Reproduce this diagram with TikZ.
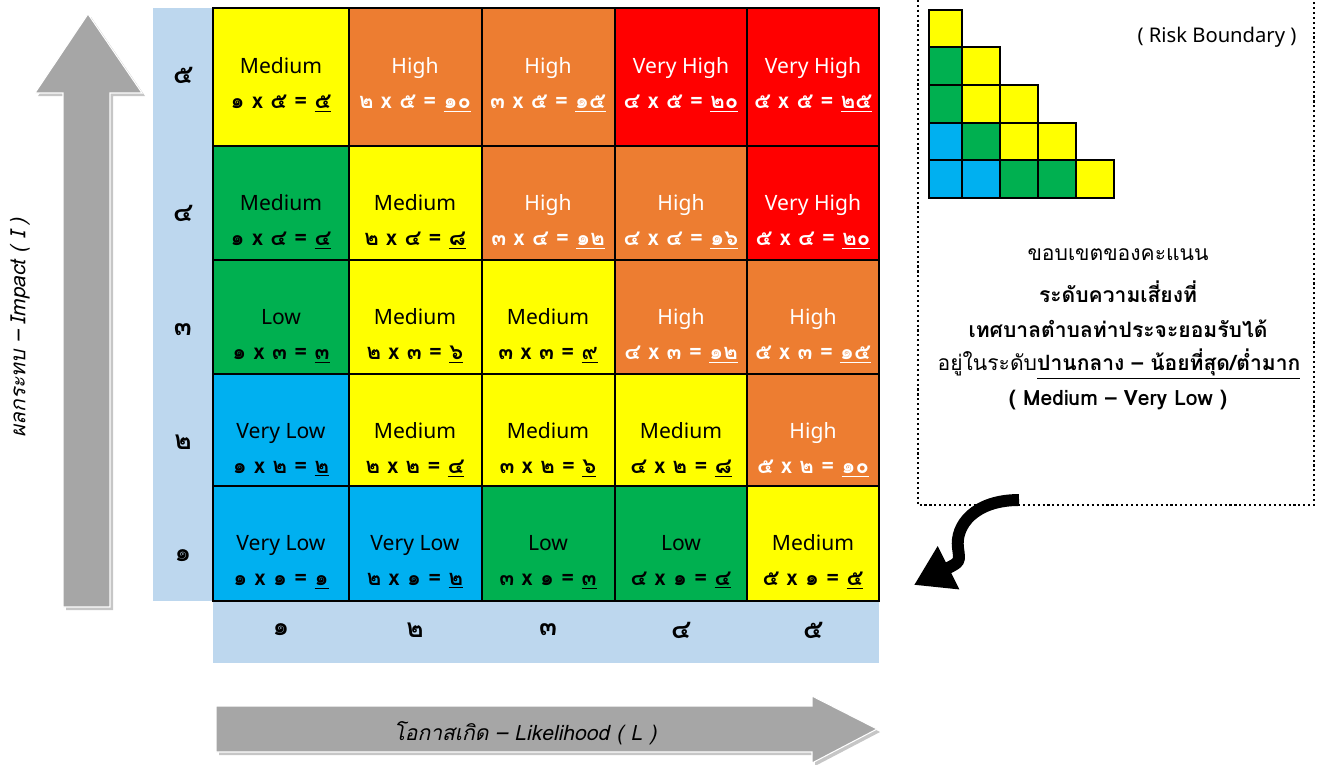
\documentclass[tikz,border=0pt]{standalone}
\usepackage{fontspec}
\setmainfont{Noto Sans}
\newfontfamily\thaifont[Script=Thai]{Loma}
\usetikzlibrary{arrows.meta}
\definecolor{vhred}{HTML}{FF0000}
\definecolor{horange}{HTML}{ED7D31}
\definecolor{myellow}{HTML}{FFFF00}
\definecolor{lgreen}{HTML}{00B050}
\definecolor{vlblue}{HTML}{00B0F0}
\definecolor{axisblue}{HTML}{BDD7EE}
\definecolor{arrowgray}{HTML}{A6A6A6}
\newcommand{\riskscore}[1]{{\thaifont\bfseries\fontsize{12.5}{20}\selectfont #1}}
\tikzset{
  celltext/.style={align=center,inner sep=0pt,font=\fontsize{12}{20}\selectfont},
  lighttext/.style={celltext,text=white},
  axisnum/.style={font=\thaifont\bfseries\fontsize{15}{17}\selectfont},
  axistitle/.style={font=\thaifont\itshape\fontsize{12}{14}\selectfont},
  notetext/.style={font=\thaifont\fontsize{12}{14}\selectfont},
  notebold/.style={font=\thaifont\bfseries\fontsize{12}{14}\selectfont},
  gridline/.style={line width=1.1pt},
  legendcell/.style={line width=1.1pt},
  blockarrow/.style={fill=arrowgray,draw=white,line width=0.6pt},
  blockshadow/.style={fill=gray!45}
}
\begin{document}
\begin{tikzpicture}[x=0.02cm,y=-0.02cm]
\useasboundingbox (0,0) rectangle (1321,764);
%axis bands
\fill[axisblue](153,8) rectangle (213,601);
\fill[axisblue](213,601) rectangle (879,663);
%cells
\fill[myellow](213,8) rectangle (349,146);
\fill[horange](349,8) rectangle (482,146);
\fill[horange](482,8) rectangle (615,146);
\fill[vhred](615,8) rectangle (747,146);
\fill[vhred](747,8) rectangle (879,146);
\fill[lgreen](213,146) rectangle (349,260);
\fill[myellow](349,146) rectangle (482,260);
\fill[horange](482,146) rectangle (615,260);
\fill[horange](615,146) rectangle (747,260);
\fill[vhred](747,146) rectangle (879,260);
\fill[lgreen](213,260) rectangle (349,374);
\fill[myellow](349,260) rectangle (615,374);
\fill[horange](615,260) rectangle (879,374);
\fill[vlblue](213,374) rectangle (349,486);
\fill[myellow](349,374) rectangle (747,486);
\fill[horange](747,374) rectangle (879,486);
\fill[vlblue](213,486) rectangle (482,601);
\fill[lgreen](482,486) rectangle (747,601);
\fill[myellow](747,486) rectangle (879,601);
\draw[gridline](213,8) rectangle (879,601);
\draw[gridline](349,8)--(349,601) (482,8)--(482,601) (615,8)--(615,601) (747,8)--(747,601);
\draw[gridline](213,146)--(879,146) (213,260)--(879,260) (213,374)--(879,374) (213,486)--(879,486);
%row 5
\node[celltext] (c15) at (281,85){Medium\\\riskscore{๑ x ๕ = \underline{๕}}};
\node[lighttext] (c25) at (415,85){High\\\riskscore{๒ x ๕ = \underline{๑๐}}};
\node[lighttext] (c35) at (548,85){High\\\riskscore{๓ x ๕ = \underline{๑๕}}};
\node[lighttext] (c45) at (681,85){Very High\\\riskscore{๔ x ๕ = \underline{๒๐}}};
\node[lighttext] (c55) at (813,85){Very High\\\riskscore{๕ x ๕ = \underline{๒๕}}};
%row 4
\node[celltext] (c14) at (281,222){Medium\\\riskscore{๑ x ๔ = \underline{๔}}};
\node[celltext] (c24) at (415,222){Medium\\\riskscore{๒ x ๔ = \underline{๘}}};
\node[lighttext] (c34) at (548,222){High\\\riskscore{๓ x ๔ = \underline{๑๒}}};
\node[lighttext] (c44) at (681,222){High\\\riskscore{๔ x ๔ = \underline{๑๖}}};
\node[lighttext] (c54) at (813,222){Very High\\\riskscore{๕ x ๔ = \underline{๒๐}}};
%row 3
\node[celltext] (c13) at (281,336){Low\\\riskscore{๑ x ๓ = \underline{๓}}};
\node[celltext] (c23) at (415,336){Medium\\\riskscore{๒ x ๓ = \underline{๖}}};
\node[celltext] (c33) at (548,336){Medium\\\riskscore{๓ x ๓ = \underline{๙}}};
\node[lighttext] (c43) at (681,336){High\\\riskscore{๔ x ๓ = \underline{๑๒}}};
\node[lighttext] (c53) at (813,336){High\\\riskscore{๕ x ๓ = \underline{๑๕}}};
%row 2
\node[celltext] (c12) at (281,450){Very Low\\\riskscore{๑ x ๒ = \underline{๒}}};
\node[celltext] (c22) at (415,450){Medium\\\riskscore{๒ x ๒ = \underline{๔}}};
\node[celltext] (c32) at (548,450){Medium\\\riskscore{๓ x ๒ = \underline{๖}}};
\node[celltext] (c42) at (681,450){Medium\\\riskscore{๔ x ๒ = \underline{๘}}};
\node[lighttext] (c52) at (813,450){High\\\riskscore{๕ x ๒ = \underline{๑๐}}};
%row 1
\node[celltext] (c11) at (281,562){Very Low\\\riskscore{๑ x ๑ = \underline{๑}}};
\node[celltext] (c21) at (415,562){Very Low\\\riskscore{๒ x ๑ = \underline{๒}}};
\node[celltext] (c31) at (548,562){Low\\\riskscore{๓ x ๑ = \underline{๓}}};
\node[celltext] (c41) at (681,562){Low\\\riskscore{๔ x ๑ = \underline{๔}}};
\node[celltext] (c51) at (813,562){Medium\\\riskscore{๕ x ๑ = \underline{๕}}};
%axis numbers
\node[axisnum] (i5) at (183,75){๕};
\node[axisnum] (i4) at (183,213){๔};
\node[axisnum] (i3) at (183,330){๓};
\node[axisnum] (i2) at (183,442){๒};
\node[axisnum] (i1) at (183,556){๑};
\node[axisnum] (l1) at (281,630){๑};
\node[axisnum] (l2) at (415,630){๒};
\node[axisnum] (l3) at (548,630){๓};
\node[axisnum] (l4) at (681,630){๔};
\node[axisnum] (l5) at (813,630){๕};
%impact arrow
\fill[blockshadow](66,610)--(66,96)--(38,96)--(91,17)--(145,96)--(113,96)--(113,610)--cycle;
\draw[blockarrow](63,607)--(63,93)--(35,93)--(88,14)--(142,93)--(110,93)--(110,607)--cycle;
\node[axistitle,rotate=90] (ititle) at (20,328){ผลกระทบ – Impact ( I )};
%likelihood arrow
\fill[blockshadow](219,709)--(815,709)--(815,699)--(880,732)--(815,766)--(815,755)--(219,755)--cycle;
\draw[blockarrow](216,706)--(812,706)--(812,696)--(877,729)--(812,763)--(812,752)--(216,752)--cycle;
\node[axistitle] (ltitle) at (525,733){โอกาสเกิด – Likelihood ( L )};
%risk boundary box
\draw[line width=1.2pt,dash pattern=on 1.2pt off 1.6pt](918,-10)--(918,505)--(1314,505)--(1314,-10);
\fill[myellow](929,10) rectangle (962,47);
\fill[lgreen](929,47) rectangle (962,123);
\fill[myellow](962,47) rectangle (1000,123);
\fill[myellow](1000,85) rectangle (1038,123);
\fill[vlblue](929,123) rectangle (962,198);
\fill[lgreen](962,123) rectangle (1000,160);
\fill[myellow](1000,123) rectangle (1076,160);
\fill[vlblue](962,160) rectangle (1000,198);
\fill[lgreen](1000,160) rectangle (1076,198);
\fill[myellow](1076,160) rectangle (1114,198);
\draw[legendcell](929,10)--(962,10)--(962,47)--(1000,47)--(1000,85)--(1038,85)--(1038,123)--(1076,123)--(1076,160)--(1114,160)--(1114,198)--(929,198)--cycle;
\draw[legendcell](929,47)--(1000,47) (929,85)--(1038,85) (929,123)--(1076,123) (929,160)--(1114,160);
\draw[legendcell](962,47)--(962,198) (1000,85)--(1000,198) (1038,123)--(1038,198) (1076,160)--(1076,198);
\node[font=\fontsize{11.5}{13}\selectfont] (rb) at (1217,37){( Risk Boundary )};
\node[notetext] (n1) at (1118,255){ขอบเขตของคะแนน};
\node[notebold] (n2) at (1118,292){ระดับความเสี่ยงที่};
\node[notebold] (n3) at (1118,329){เทศบาลตำบลท่าประจะยอมรับได้};
\node[notetext] (n4) at (1119,364){อยู่ในระดับ\textbf{\underline{ปานกลาง – น้อยที่สุด/ต่ำมาก}}};
\node[notebold] (n5) at (1118,400){( Medium – Very Low )};
%pointer
\draw[line width=6.8pt,-{Triangle[length=22pt,width=26pt]}](1019,500) .. controls (975,500) and (955,525) .. (958,548) .. controls (960,562) .. (914,585);
\end{tikzpicture}
\end{document}
